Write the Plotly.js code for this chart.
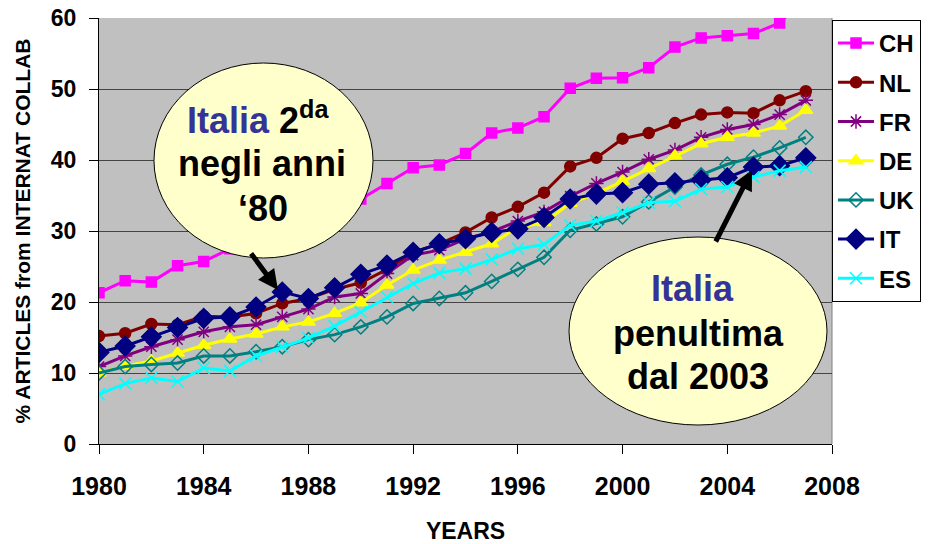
<!DOCTYPE html>
<html>
<head>
<meta charset="utf-8">
<script src="https://cdn.plot.ly/plotly-3.0.1.min.js"></script>
<style>html,body{margin:0;padding:0;background:#fff;}#chart{width:934px;height:544px;}</style>
</head>
<body>
<div id="chart"></div>
<script>
const years = [1980,1981,1982,1983,1984,1985,1986,1987,1988,1989,1990,1991,1992,1993,1994,1995,1996,1997,1998,1999,2000,2001,2002,2003,2004,2005,2006,2007];
const seriesNames = ['CH','NL','FR','DE','UK','IT','ES'];
const CH = [21.3,23.0,22.8,25.1,25.7,27.5,29.0,30.3,31.8,33.2,34.5,36.7,38.9,39.3,40.9,43.8,44.5,46.1,50.1,51.5,51.6,53.0,55.9,57.2,57.5,57.8,59.3,63.0];
const NL = [15.2,15.6,16.9,16.8,18.0,17.9,18.4,19.8,20.5,21.8,22.7,24.6,27.0,28.2,29.8,31.9,33.4,35.4,39.1,40.3,43.0,43.8,45.2,46.4,46.7,46.6,48.4,49.7];
const FR = [10.9,12.4,13.7,14.7,15.8,16.5,16.8,17.9,19.0,20.7,21.2,24.0,26.6,27.3,28.9,29.9,31.4,32.7,34.9,36.7,38.3,40.1,41.4,43.2,44.3,45.0,46.4,48.4];
const DE = [10.0,11.0,11.7,12.8,13.9,14.8,15.5,16.5,17.2,18.4,19.9,22.4,24.5,25.9,27.0,28.2,30.5,31.2,33.9,35.3,37.0,38.8,40.6,42.3,43.2,43.8,44.8,47.0];
const UK = [10.0,10.9,11.2,11.4,12.4,12.4,13.0,13.7,14.7,15.4,16.5,17.9,19.8,20.5,21.3,22.9,24.6,26.3,30.1,31.0,32.0,34.1,36.2,37.9,39.4,40.4,41.7,43.2];
const IT = [12.9,13.8,15.1,16.4,17.7,17.9,19.3,21.4,20.5,22.0,23.9,25.2,27.0,28.2,28.9,29.8,30.3,31.9,34.5,35.2,35.4,36.6,36.8,37.2,37.5,39.0,39.2,40.3];
const ES = [7.0,8.5,9.3,8.8,10.7,10.3,12.4,13.7,14.9,16.6,18.6,20.7,22.6,24.1,24.7,26.0,27.5,28.1,30.8,31.4,32.6,34.0,34.2,35.9,36.2,37.6,38.5,39.0];
const xTicks = [1980,1984,1988,1992,1996,2000,2004,2008];
const yTicks = [0,10,20,30,40,50,60];

const values = [CH,NL,FR,DE,UK,IT,ES];
const styles = [
  {color:'#FF00FF', symbol:'square', size:10, lw:3},
  {color:'#800000', symbol:'circle', size:11, lw:3},
  {color:'#800080', symbol:'asterisk-open', size:12, lw:3},
  {color:'#FFFF00', symbol:'triangle-up', size:12, lw:3},
  {color:'#008080', symbol:'diamond-open', size:11, lw:3},
  {color:'#000080', symbol:'diamond', size:15, lw:3},
  {color:'#00FFFF', symbol:'x-thin-open', size:12, lw:3}
];
const traces = seriesNames.map((n,i)=>({
  type:'scatter', mode:'lines+markers', name:n, x:years, y:values[i],
  legendgroup:n,
  line:{color:styles[i].color, width:styles[i].lw},
  marker:{symbol:styles[i].symbol, size:styles[i].size, color:styles[i].color,
          line:{color:styles[i].color, width:1.5}}
}));

const FONT = 'Arial, "Liberation Sans", sans-serif';
const P = (px)=>(px-99)/733, Q = (py)=>(444-py)/426;
const blue = '#333399';
function txt(x,y,t){return {xref:'paper',yref:'paper',x:P(x),y:Q(y),xanchor:'center',yanchor:'middle',text:t,showarrow:false,font:{family:FONT,size:36,color:'#000'}};}

const layout = {
  width:934, height:544,
  margin:{l:99, r:102, t:18, b:100},
  paper_bgcolor:'#fff', plot_bgcolor:'#C0C0C0',
  font:{family:FONT, color:'#000'},
  showlegend:true,
  legend:{x:1, xanchor:'left', y:Q(20), yanchor:'top', bgcolor:'#fff', bordercolor:'#000', borderwidth:1,
          font:{family:FONT, size:24, color:'#000', weight:'bold'}, tracegroupgap:5, itemwidth:36},
  xaxis:{range:[1980,2008], tickvals:xTicks, ticks:'outside', ticklen:9, tickcolor:'#000', tickwidth:1,
         showline:true, linecolor:'#000', linewidth:1, showgrid:false, zeroline:false,
         tickfont:{family:FONT, size:25, weight:'bold'}, ticklabelstandoff:11,
         title:{text:'YEARS', font:{family:FONT, size:23, weight:'bold'}, standoff:31}},
  yaxis:{range:[0,60], tickvals:yTicks, ticks:'outside', ticklen:9, tickcolor:'#000', tickwidth:1,
         showline:true, linecolor:'#000', linewidth:1, showgrid:true, gridcolor:'#444', gridwidth:1, zeroline:false,
         tickfont:{family:FONT, size:23, weight:'bold'}, ticklabelstandoff:8,
         title:{text:'% ARTICLES from INTERNAT COLLAB', font:{family:FONT, size:21, weight:'bold'}, standoff:14}},
  shapes:[
    {type:'line', xref:'paper', yref:'paper', x0:1, x1:1, y0:0, y1:1, line:{color:'#808080', width:1}, layer:'below'},
    {type:'circle', xref:'paper', yref:'paper', x0:P(154), x1:P(373), y0:Q(258), y1:Q(63), fillcolor:'#FFFFCC', line:{color:'#000', width:1}, layer:'above'},
    {type:'circle', xref:'paper', yref:'paper', x0:P(569), x1:P(827), y0:Q(425), y1:Q(237), fillcolor:'#FFFFCC', line:{color:'#000', width:1}, layer:'above'}
  ],
  annotations:[
    txt(258,118,'<b><span style="color:'+blue+'">Italia</span> 2<sup>da</sup></b>'),
    txt(262,163,'<b>negli anni</b>'),
    txt(263,208,'<b>\u201880</b>'),
    txt(692,288,'<b><span style="color:'+blue+'">Italia</span></b>'),
    txt(698,333,'<b>penultima</b>'),
    txt(698,376,'<b>dal 2003</b>'),
    {xref:'paper',yref:'paper',x:P(278),y:Q(290),ax:-28,ay:-38,text:'',showarrow:true,arrowhead:2,arrowsize:0.8,arrowwidth:5,arrowcolor:'#000',standoff:0},
    {xref:'paper',yref:'paper',x:P(752),y:Q(170),ax:-37,ay:73,text:'',showarrow:true,arrowhead:2,arrowsize:0.8,arrowwidth:5,arrowcolor:'#000',standoff:0}
  ]
};
Plotly.newPlot('chart', traces, layout, {displayModeBar:false, staticPlot:true});
</script>
</body>
</html>
